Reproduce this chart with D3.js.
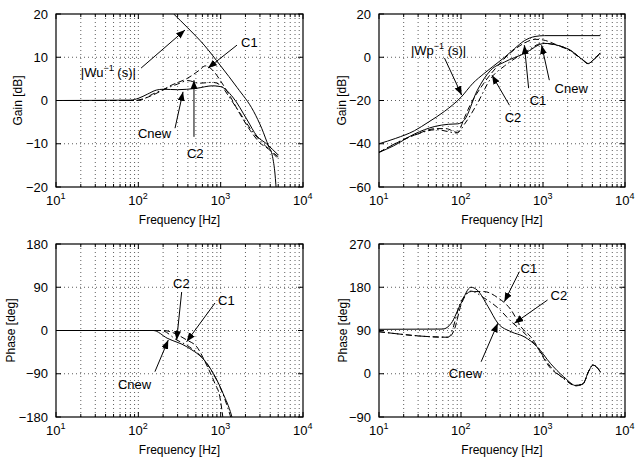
<!DOCTYPE html>
<html>
<head>
<meta charset="utf-8">
<script src="https://cdn.jsdelivr.net/npm/d3@7"></script>
<style>
  body { margin: 0; background: #fff; }
  text { font-family: "Liberation Sans", Arial, Helvetica, sans-serif; fill: #000; }
</style>
</head>
<body>
<div id="chart"></div>
<script>
// ---- data (frequency in Hz, gain in dB, phase in deg) ----
const decades = [1, 2, 3, 4];

// top left: |Wu^-1| and controller gains
const wuFreq = [269, 398, 631, 1000, 1585, 2512, 3162, 3800, 4266, 4571, 4786];
const wuGain = [20, 16.8, 12.8, 8, 3, -2.5, -6.5, -10.5, -13, -17, -22];
const cnewGainFreq = [10, 80, 100, 130, 165, 200, 300, 500, 800, 1000, 1400, 2100, 2750, 3600, 5000];
const cnewGain = [0, 0.1, 0.5, 1.5, 2.4, 2.6, 2.5, 2.8, 3.4, 3.2, 0.8, -4.5, -8.2, -10, -12.6];
const c1GainFreq = [10, 90, 110, 140, 180, 250, 400, 550, 650, 800, 1000, 1300, 1700, 2300, 3000, 3800, 5000];
const c1Gain = [0, 0, 0.3, 1, 2, 3.5, 5.2, 7, 8, 7, 4.5, 1, -3, -7, -9.8, -11.2, -13.5];
const c2GainFreq = [10, 100, 150, 200, 300, 400, 550, 800, 1000, 1300, 1800, 2500, 3500, 5000];
const c2Gain = [0, 0, 1.5, 2.5, 3.8, 4.6, 4, 4.2, 3.5, 0.5, -3.5, -7.5, -10.5, -13];

// top right: |Wp^-1| and loop gains
const wpFreq = [10, 16, 27, 40, 63, 100, 140, 190, 250, 340, 450, 590, 800, 1050, 5000];
const wpGain = [-40, -37.5, -34, -30, -25, -18.5, -12, -7.6, -4, 0, 4, 7.6, 9.6, 10, 10];
const cnewLoopFreq = [10, 15, 27, 48, 70, 91, 110, 158, 230, 340, 590, 1050, 1480, 2140, 3100, 3550, 4270, 5000];
const cnewLoop = [-44, -41, -35.5, -32, -31, -30.8, -29, -15.3, -6, -2.2, 1.7, 6.4, 5.6, 3.3, -1.4, -2.9, -0.6, 2];
const c1LoopFreq = [10, 27, 50, 65, 90, 110, 126, 190, 280, 400, 590, 800, 1000, 1500, 2140, 3100, 3550, 4270, 5000];
const c1Loop = [-44, -36, -33, -33, -34.7, -28, -23, -12, -4, 2, 6.5, 8.3, 8, 5.6, 3.3, -1.4, -2.9, -0.6, 2];
const c2LoopFreq = [10, 27, 50, 90, 110, 158, 230, 340, 590, 1000, 1500, 2140, 3100, 3550, 4270, 5000];
const c2Loop = [-44, -36, -33.5, -35, -31, -21.4, -9.9, -4, 2, 6.5, 5.4, 3, -1.6, -3, -0.8, 2];

// bottom left: controller phase
const cnewPhFreq = [10, 152, 224, 389, 676, 813, 1070, 1350, 1420];
const cnewPh = [0, 0, -16, -34, -68, -89, -131, -176, -190];
const c1PhFreq = [10, 200, 389, 513, 676, 850, 977, 1080];
const c1Ph = [0, 0, -20, -34, -72, -110, -138, -190];
const c2PhFreq = [10, 190, 295, 400, 676, 813, 1070, 1380];
const c2Ph = [0, 0, -20, -32, -68, -90, -133, -190];

// bottom right: loop phase
const cnewLoopPhFreq = [10, 60, 76, 100, 132, 158, 214, 282, 407, 589, 851, 1230, 1780, 2570, 3100, 3600, 4070, 4500, 5000];
const cnewLoopPh = [92.5, 93, 105, 146.6, 180, 174, 139.5, 105, 87.5, 77, 56, 21.7, -6, -25, -20, 5, 18, 14, 4];
const c1LoopPhFreq = [10, 70, 83, 100, 132, 190, 282, 407, 537, 708, 1230, 1780, 2500, 3100, 3600, 4070, 4500, 5000];
const c1LoopPh = [87.5, 76, 92, 143, 171, 171, 158, 133, 98, 77, 12, -9, -24, -20, 5, 18, 14, 4];
const c2LoopPhFreq = [10, 70, 100, 132, 190, 282, 407, 589, 851, 1230, 1780, 2500, 3100, 3600, 4070, 4500, 5000];
const c2LoopPh = [87.5, 76, 150, 172, 158, 137, 109, 85, 55, 15, -10, -25, -21, 5, 18, 14, 4];

const gainTicksL = [-20, -10, 0, 10, 20];
const gainTicksR = [-60, -40, -20, 0, 20];
const phaseTicksL = [-180, -90, 0, 90, 180];
const phaseTicksR = [-90, 0, 90, 180, 270];

// annotations: label at (f, v), arrow from (f, v) to (f, v)
const notesTL = [
  { label: ["|Wu", "−1", " (s)|"], at: [20, 5.4], from: [108, 7.5], to: [369, 16.3] },
  { label: ["C1"], at: [1766, 12.4], from: [1578, 12.8], to: [702, 7.5] },
  { label: ["Cnew"], at: [99, -8.7], from: [279, -6.4], to: [349, 2.0] },
  { label: ["C2"], at: [390, -13.3], from: [474, -8.4], to: [474, 4.7] }
];
const notesTR = [
  { label: ["|Wp", "−1", " (s)|"], at: [24.5, 1.0], from: [63, -0.4], to: [102, -17.5] },
  { label: ["C2"], at: [341, -30], from: [390, -22.2], to: [239, -8.3] },
  { label: ["C1"], at: [687, -22.2], from: [668, -14.3], to: [592, 5.6] },
  { label: ["Cnew"], at: [1384, -16.6], from: [1194, -10.6], to: [962, 5.6] }
];
const notesBL = [
  { label: ["C2"], at: [264, 88.4], from: [336, 80.1], to: [292, -19.8] },
  { label: ["C1"], at: [929, 53], from: [853, 57.2], to: [386, -23.3] },
  { label: ["Cnew"], at: [56.6, -121.7], from: [159, -85.7], to: [231, -19.8] }
];
const notesBR = [
  { label: ["C1"], at: [533, 209.7], from: [515, 212.4], to: [338, 150] },
  { label: ["C2"], at: [1236, 153.5], from: [1137, 153.5], to: [448, 105] },
  { label: ["Cnew"], at: [71, -8.9], from: [176, 25], to: [281, 105] }
];

const zip = (f, v) => f.map((d, i) => [d, v[i]]);

const SOLID = null, DASH = "6,3", DASHDOT = "6,3,1.5,3";

const panels = [
  { left: 56, right: 303, top: 14, bottom: 187, yDomain: [-20, 20], yTicks: gainTicksL,
    yTitle: "Gain [dB]", titleX: 22, notes: notesTL,
    series: [[zip(wuFreq, wuGain), SOLID], [zip(c1GainFreq, c1Gain), DASH],
             [zip(c2GainFreq, c2Gain), DASHDOT], [zip(cnewGainFreq, cnewGain), SOLID]] },
  { left: 379, right: 625, top: 14, bottom: 187, yDomain: [-60, 20], yTicks: gainTicksR,
    yTitle: "Gain [dB]", titleX: 346, notes: notesTR,
    series: [[zip(wpFreq, wpGain), SOLID], [zip(c1LoopFreq, c1Loop), DASH],
             [zip(c2LoopFreq, c2Loop), DASHDOT], [zip(cnewLoopFreq, cnewLoop), SOLID]] },
  { left: 56, right: 303, top: 244, bottom: 417, yDomain: [-180, 180], yTicks: phaseTicksL,
    yTitle: "Phase [deg]", titleX: 15, notes: notesBL,
    series: [[zip(c1PhFreq, c1Ph), DASH], [zip(c2PhFreq, c2Ph), DASHDOT],
             [zip(cnewPhFreq, cnewPh), SOLID]] },
  { left: 379, right: 625, top: 244, bottom: 417, yDomain: [-90, 270], yTicks: phaseTicksR,
    yTitle: "Phase [deg]", titleX: 347, notes: notesBR,
    series: [[zip(c1LoopPhFreq, c1LoopPh), DASH], [zip(c2LoopPhFreq, c2LoopPh), DASHDOT],
             [zip(cnewLoopPhFreq, cnewLoopPh), SOLID]] }
];

const svg = d3.select("#chart").append("svg")
  .attr("width", 636).attr("height", 460);

svg.append("defs").append("marker")
  .attr("id", "arrow")
  .attr("markerUnits", "userSpaceOnUse")
  .attr("markerWidth", 10).attr("markerHeight", 8)
  .attr("refX", 9).attr("refY", 3.5)
  .attr("orient", "auto")
  .append("path").attr("d", "M0,0 L9,3.5 L0,7 z").attr("fill", "#000");

// minor log positions 2..9 x 10^k
const minor = [];
[10, 100, 1000].forEach(b => { for (let k = 2; k <= 9; k++) minor.push(b * k); });

panels.forEach((p, pi) => {
  const x = d3.scaleLog().domain([10, 1e4]).range([p.left, p.right]);
  const y = d3.scaleLinear().domain(p.yDomain).range([p.bottom, p.top]);
  const g = svg.append("g");

  g.append("clipPath").attr("id", "clip" + pi)
    .append("rect").attr("x", p.left).attr("y", p.top)
    .attr("width", p.right - p.left).attr("height", p.bottom - p.top);

  // dotted grid
  const gridX = minor.concat([100, 1000]);
  g.selectAll(".gx").data(gridX).enter().append("line")
    .attr("x1", d => x(d)).attr("x2", d => x(d))
    .attr("y1", p.top).attr("y2", p.bottom)
    .attr("stroke", "#333").attr("stroke-width", 0.8).attr("stroke-dasharray", "1,3");
  g.selectAll(".gy").data(p.yTicks.slice(1, -1)).enter().append("line")
    .attr("x1", p.left).attr("x2", p.right)
    .attr("y1", d => y(d)).attr("y2", d => y(d))
    .attr("stroke", "#333").attr("stroke-width", 0.8).attr("stroke-dasharray", "1,3");

  // curves
  const line = d3.line().x(d => x(d[0])).y(d => y(d[1])).curve(d3.curveMonotoneX);
  g.append("g").attr("clip-path", `url(#clip${pi})`)
    .selectAll("path").data(p.series).enter().append("path")
    .attr("d", d => line(d[0]))
    .attr("fill", "none").attr("stroke", "#000").attr("stroke-width", 1)
    .attr("stroke-dasharray", d => d[1]);

  // ticks, inward on all sides
  const tk = g.append("g").attr("stroke", "#000").attr("stroke-width", 1);
  decades.forEach(e => {
    const xv = x(Math.pow(10, e));
    tk.append("line").attr("x1", xv).attr("x2", xv).attr("y1", p.bottom).attr("y2", p.bottom - 5);
    tk.append("line").attr("x1", xv).attr("x2", xv).attr("y1", p.top).attr("y2", p.top + 5);
  });
  minor.forEach(m => {
    const xv = x(m);
    tk.append("line").attr("x1", xv).attr("x2", xv).attr("y1", p.bottom).attr("y2", p.bottom - 3);
    tk.append("line").attr("x1", xv).attr("x2", xv).attr("y1", p.top).attr("y2", p.top + 3);
  });
  p.yTicks.forEach(t => {
    tk.append("line").attr("x1", p.left).attr("x2", p.left + 5).attr("y1", y(t)).attr("y2", y(t));
    tk.append("line").attr("x1", p.right).attr("x2", p.right - 5).attr("y1", y(t)).attr("y2", y(t));
  });

  // box
  g.append("rect").attr("x", p.left).attr("y", p.top)
    .attr("width", p.right - p.left).attr("height", p.bottom - p.top)
    .attr("fill", "none").attr("stroke", "#000").attr("stroke-width", 1.2);

  // y tick labels
  g.selectAll(".yl").data(p.yTicks).enter().append("text")
    .attr("x", p.left - 8).attr("y", d => y(d)).attr("dy", "0.36em")
    .attr("text-anchor", "end").attr("font-size", 13)
    .text(d => d < 0 ? "\u2212" + Math.abs(d) : d);

  // x tick labels 10^e
  decades.forEach(e => {
    const t = g.append("text").attr("x", x(Math.pow(10, e)) - 10).attr("y", p.bottom + 18)
      .attr("font-size", 13);
    t.append("tspan").text("10");
    t.append("tspan").attr("dy", -6).attr("font-size", 9).text(e);
  });

  // axis titles
  g.append("text").attr("x", (p.left + p.right) / 2).attr("y", p.bottom + 37)
    .attr("text-anchor", "middle").attr("font-size", 12).text("Frequency [Hz]");
  g.append("text")
    .attr("transform", `translate(${p.titleX},${(p.top + p.bottom) / 2}) rotate(-90)`)
    .attr("text-anchor", "middle").attr("font-size", 12).text(p.yTitle);

  // annotations
  p.notes.forEach(n => {
    g.append("line")
      .attr("x1", x(n.from[0])).attr("y1", y(n.from[1]))
      .attr("x2", x(n.to[0])).attr("y2", y(n.to[1]))
      .attr("stroke", "#000").attr("stroke-width", 1)
      .attr("marker-end", "url(#arrow)");
    const t = g.append("text").attr("x", x(n.at[0])).attr("y", y(n.at[1]))
      .attr("font-size", 13);
    t.append("tspan").text(n.label[0]);
    if (n.label.length > 1) {
      t.append("tspan").attr("dy", -6).attr("font-size", 9).text(n.label[1]);
      t.append("tspan").attr("dy", 6).text(n.label[2]);
    }
  });
});
</script>
</body>
</html>
